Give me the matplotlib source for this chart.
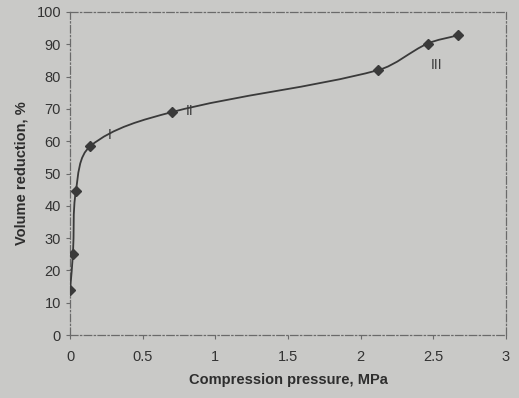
import numpy as np
import matplotlib
matplotlib.use('Agg')
import matplotlib.pyplot as plt
from matplotlib.path import Path
from matplotlib.patches import PathPatch

plt.rcParams['font.family'] = ['Liberation Sans', 'DejaVu Sans']

# data
pressure = [0.0, 0.02, 0.04, 0.14, 0.70, 2.12, 2.46, 2.67]
reduction = [14.0, 25.2, 44.6, 58.5, 69.0, 82.0, 90.2, 92.8]
stage_labels = ['I', 'II', 'III']
stage_x = [0.27, 0.82, 2.52]
stage_y = [62.0, 69.2, 83.5]

bg = '#c9c9c7'
ink = '#3a3a3a'


def smooth_path(ax, x, y):
    # smoothed line through the points, bezier segments in display space
    # with tangents weighted by neighbouring chord lengths
    pts = ax.transData.transform(np.column_stack([x, y]))
    n = len(pts)
    tang = []
    for i in range(n):
        a = pts[max(i - 1, 0)]
        b = pts[min(i + 1, n - 1)]
        d = b - a
        nd = np.hypot(*d)
        tang.append(d / nd if nd > 0 else d)
    verts = [pts[0]]
    codes = [Path.MOVETO]
    for i in range(n - 1):
        p1, p2 = pts[i], pts[i + 1]
        L = np.hypot(*(p2 - p1)) / 3.0
        verts += [p1 + tang[i] * L, p2 - tang[i + 1] * L, p2]
        codes += [Path.CURVE4] * 3
    inv = ax.transData.inverted()
    return Path(inv.transform(np.array(verts)), codes)


fig = plt.figure(figsize=(5.19, 3.98), dpi=100, facecolor=bg)
ax = fig.add_axes([0.135, 0.158, 0.84, 0.812])
ax.set_facecolor(bg)
ax.set_xlim(0, 3)
ax.set_ylim(0, 100)

ax.add_patch(PathPatch(smooth_path(ax, pressure, reduction), facecolor='none',
                       edgecolor=ink, lw=1.3, zorder=3))
ax.plot(pressure, reduction, ls='none', marker='D', ms=5.5,
        color=ink, zorder=4)

for lab, lx, ly in zip(stage_labels, stage_x, stage_y):
    ax.text(lx, ly, lab, fontsize=10, color=ink, ha='center', va='center')

ax.set_xticks([0, 0.5, 1, 1.5, 2, 2.5, 3])
ax.set_xticklabels(['0', '0.5', '1', '1.5', '2', '2.5', '3'])
ax.set_yticks(range(0, 101, 10))

for side in ['left', 'bottom', 'top', 'right']:
    ax.spines[side].set_color('#6a6a6a')
    ax.spines[side].set_linewidth(0.9)
    ax.spines[side].set_linestyle((0, (6, 2, 1, 2)))

ax.tick_params(axis='both', labelsize=10.5, colors='#6a6a6a',
               labelcolor='#333333', length=3, width=0.8)
ax.tick_params(axis='x', pad=8)

ax.set_xlabel('Compression pressure, MPa', fontsize=10.5,
              fontweight='bold', color='#2e2e2e', labelpad=6)
ax.set_ylabel('Volume reduction, %', fontsize=10.5,
              fontweight='bold', color='#2e2e2e', labelpad=6)

fig.savefig('out.png', dpi=100, facecolor=bg)
